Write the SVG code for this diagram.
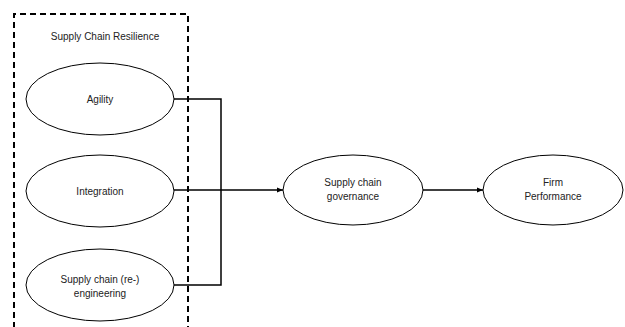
<svg xmlns="http://www.w3.org/2000/svg" width="625" height="327" viewBox="0 0 625 327">
  <style>
    .node ellipse { fill: #ffffff; stroke: #000000; stroke-width: 1; }
    .label { font-family: "Liberation Sans", Arial, sans-serif; font-size: 10px; fill: #222222; text-anchor: middle; }
    .edge { fill: none; stroke: #000000; stroke-width: 1.5; }
  </style>
  <defs>
    <marker id="arrow" viewBox="0 0 10 10" refX="10" refY="5" markerWidth="6" markerHeight="6" orient="auto" markerUnits="userSpaceOnUse">
      <path d="M0,1 L10,5 L0,9 z" fill="#000000"/>
    </marker>
  </defs>
  <rect width="625" height="327" fill="#ffffff"/>

  <!-- resilience group boundary -->
  <g id="resilience-group">
    <path d="M14,328 L14,14 L188,14 L188,328" fill="none" stroke="#000000" stroke-width="2" stroke-dasharray="6,4"/>
    <text class="label" x="105" y="40">Supply Chain Resilience</text>
  </g>

  <g id="connectors">
    <path class="edge" d="M174,99 L221,99 L221,285 L174,285"/>
    <path class="edge" d="M174,190 L283,190" marker-end="url(#arrow)"/>
    <path class="edge" d="M423,190 L483,190" marker-end="url(#arrow)"/>
  </g>

  <g id="agility" class="node">
    <ellipse cx="100" cy="99" rx="74" ry="36"/>
    <text class="label" x="100" y="103">Agility</text>
  </g>

  <g id="integration" class="node">
    <ellipse cx="100" cy="191" rx="74" ry="36"/>
    <text class="label" x="100" y="195">Integration</text>
  </g>

  <g id="engineering" class="node">
    <ellipse cx="100" cy="285" rx="74" ry="36"/>
    <text class="label" x="100" y="283">Supply chain (re-)</text>
    <text class="label" x="100" y="297">engineering</text>
  </g>

  <g id="governance" class="node">
    <ellipse cx="353" cy="190" rx="70" ry="35"/>
    <text class="label" x="353" y="186">Supply chain</text>
    <text class="label" x="353" y="200">governance</text>
  </g>

  <g id="performance" class="node">
    <ellipse cx="553" cy="190" rx="70" ry="35"/>
    <text class="label" x="553" y="186">Firm</text>
    <text class="label" x="553" y="200">Performance</text>
  </g>
</svg>
